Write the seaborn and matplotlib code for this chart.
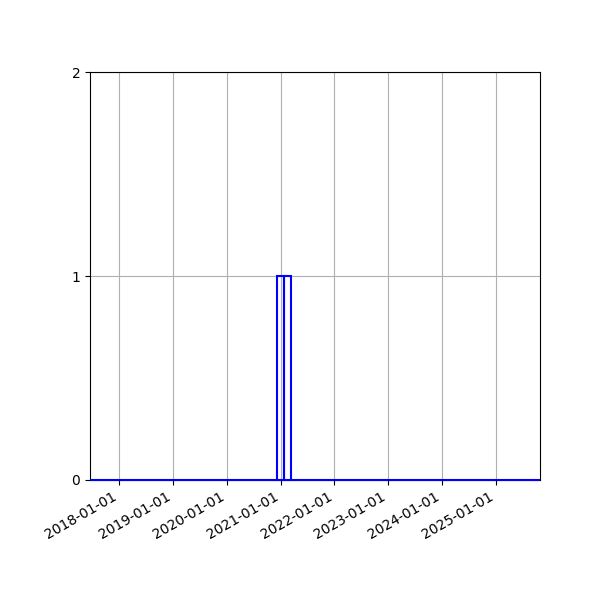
import matplotlib
matplotlib.use("Agg")
import matplotlib.pyplot as plt
import matplotlib.dates as mdates
import pandas as pd
import seaborn as sns

# Events (one per bin near the turn of 2021)
event_dates = ["2020-12-20", "2021-02-15"]
# Histogram span and bin count
range_start = "2017-06-18"
range_end = "2025-10-26"
n_bins = 65
y_ticks = [0, 1, 2]

df = pd.DataFrame({"date": pd.to_datetime(event_dates)})
binrange = (mdates.date2num(pd.Timestamp(range_start)), mdates.date2num(pd.Timestamp(range_end)))

fig, axis = plt.subplots(figsize=(6, 6), dpi=100)
sns.histplot(data=df, x="date", bins=n_bins, binrange=binrange, element="bars",
             fill=False, color="blue", linewidth=1.5, ax=axis)
# draw the bar outlines over the spines, like the original
for patch in axis.patches:
    patch.set_zorder(3)
    patch.set_clip_on(False)

axis.set_xlim(binrange)
axis.set_ylim(0, 2)
axis.set_yticks(y_ticks)
axis.xaxis.set_major_locator(mdates.YearLocator())
axis.xaxis.set_major_formatter(mdates.DateFormatter("%Y-%m-%d"))
axis.grid(True, color="#b0b0b0", linewidth=0.8)
axis.set_axisbelow(True)
axis.set_xlabel("")
axis.set_ylabel("")
fig.autofmt_xdate()
fig.subplots_adjust(left=0.15, right=0.9, top=0.88, bottom=0.2)

fig.savefig("out.png")
